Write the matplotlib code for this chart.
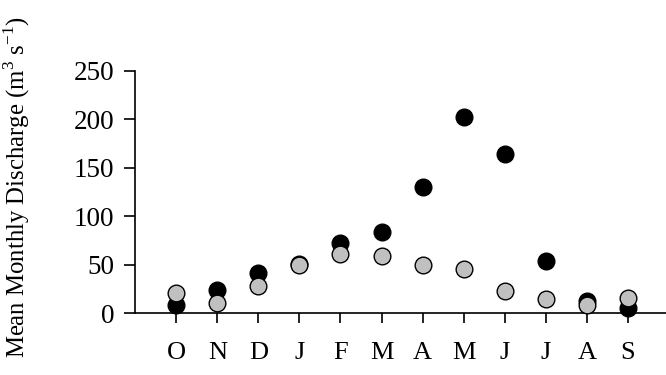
import matplotlib
matplotlib.use("Agg")
import matplotlib.pyplot as plt

months = ["O", "N", "D", "J", "F", "M", "A", "M", "J", "J", "A", "S"]
series_black = [8, 23.5, 41, 51, 72, 84, 130, 202, 164.5, 54, 13, 5.5]
series_gray = [21, 10.5, 28, 49.5, 61.5, 59, 50, 45.5, 23, 15, 8, 16]

plt.rcParams["font.family"] = ["Liberation Serif", "DejaVu Serif"]
plt.rcParams["mathtext.fontset"] = "custom"
plt.rcParams["mathtext.rm"] = "Liberation Serif"

fig = plt.figure(figsize=(6.66, 3.75), dpi=100)
ax = fig.add_axes([0.203, 0.165, 0.797, 0.646])

x = range(len(months))
ax.plot(x, series_black, "o", ms=12, mfc="black", mec="black", mew=1, zorder=2, clip_on=False)
ax.plot(x, series_gray, "o", ms=12, mfc="#c0c0c0", mec="black", mew=1, zorder=3, clip_on=False)

ax.set_xlim(-1, 11.93)
ax.set_ylim(0, 250)
ax.set_yticks([0, 50, 100, 150, 200, 250])
ax.set_xticks(list(x))
ax.set_xticklabels(months)
ax.tick_params(axis="x", direction="out", length=7, width=1.2, pad=14, labelsize=19)
ax.tick_params(axis="y", direction="out", length=8, width=1.2, pad=7, labelsize=19.5)
for s in ["top", "right"]:
    ax.spines[s].set_visible(False)
for s in ["left", "bottom"]:
    ax.spines[s].set_linewidth(1.2)

ax.set_ylabel("Mean Monthly Discharge (m$^{3}$ s$^{-1}$)", fontsize=17.8)
ax.yaxis.set_label_coords(-0.195, 0.52)

fig.savefig("out.png", dpi=100, facecolor="white")
